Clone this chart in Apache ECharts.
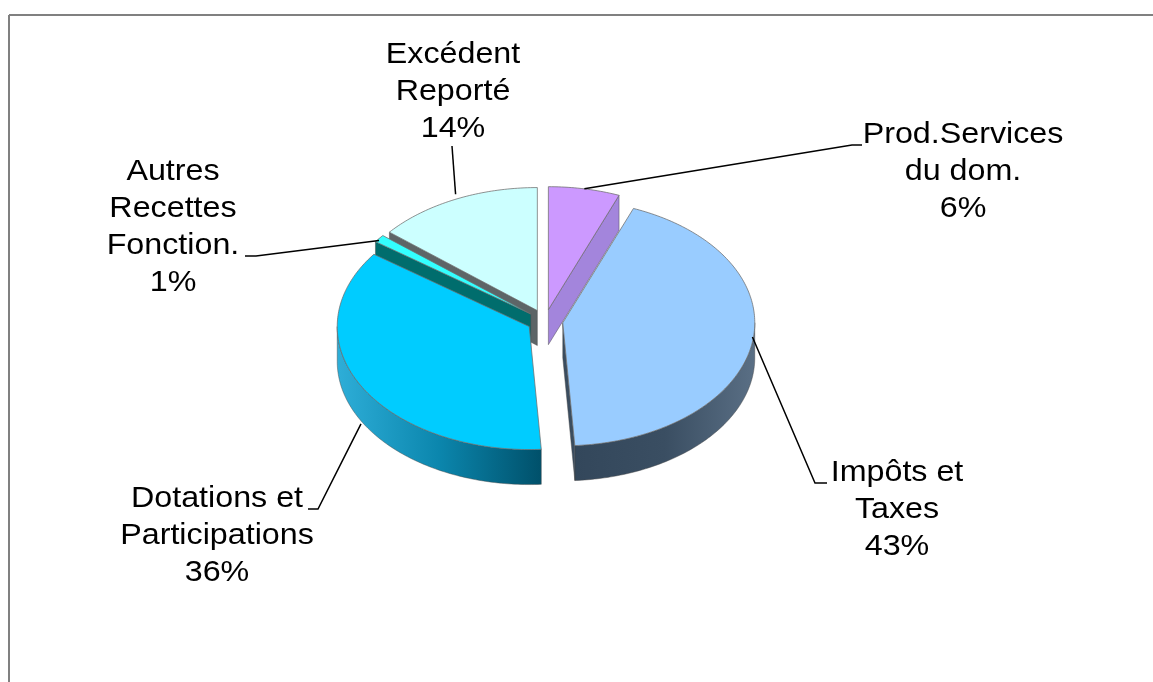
<!DOCTYPE html>
<html>
<head>
<meta charset="utf-8">
<script src="https://cdn.jsdelivr.net/npm/echarts@6/dist/echarts.min.js"></script>
<style>
  html, body { margin: 0; padding: 0; background: #ffffff; }
  #chart { width: 1153px; height: 682px; }
</style>
</head>
<body>
<div id="chart"></div>
<script>
// Recettes de fonctionnement : répartition par nature
const categories = ['Prod.Services du dom.', 'Impôts et Taxes', 'Dotations et Participations', 'Autres Recettes Fonction.', 'Excédent Reporté'];
const labelLines = [['Prod.Services', 'du dom.'], ['Impôts et', 'Taxes'], ['Dotations et', 'Participations'], ['Autres', 'Recettes', 'Fonction.'], ['Excédent', 'Reporté']];
const shares = [6, 43, 36, 1, 14];

// Tilted, exploded pie geometry (screen pixels)
const PIE = { cx: 545, cy: 321, rx: 192, ry: 123, depth: 35, explode: 18 };

// Face colours
const topColors = ['#CC99FF', '#99CCFF', '#00CCFF', '#33FFFF', '#CCFFFF'];
const wallColors = ['#a385dc', '#3a4d60', '#0a7fa6', '#006d6d', '#5d6567'];
const sideStops = [
  ['#8a6cc0', '#9d7fd6'],
  ['#33475b', '#3a4e62', '#5a6f85'],
  ['#2eaed8', '#0b86ad', '#00506a'],
  ['#006666', '#007777'],
  ['#555555', '#666666']
];

// Data-label placement: text centre / first baseline, leader elbow and end
const labelLayout = [
  { x: 963, y: 145, elbow: [852, 145], end: [862, 145], drop: 0 },
  { x: 897, y: 483, elbow: [815, 483], end: [827, 483], drop: -5 },
  { x: 217, y: 509, elbow: [318, 509], end: [308, 509], drop: 38 },
  { x: 173, y: 182, elbow: [256, 256], end: [245, 256], drop: 2 },
  { x: 453, y: 65, elbow: [452, 146], end: [452, 146], drop: -5 }
];
const FONT_SIZE = 30;
const FONT_STRETCH = 1.075;
const LINE_GAP = 37;

const total = shares.reduce((a, b) => a + b, 0);
const bounds = [];
let acc = 0;
shares.forEach(v => {
  const a = acc / total * 360;
  acc += v;
  bounds.push([a, acc / total * 360]);
});
const rad = d => d * Math.PI / 180;

function sliceCentre(i) {
  const mid = rad((bounds[i][0] + bounds[i][1]) / 2);
  return [PIE.cx + PIE.explode * Math.sin(mid), PIE.cy - PIE.explode * Math.cos(mid) * PIE.ry / PIE.rx];
}
function rim(c, deg, z) {
  const t = rad(deg);
  return [c[0] + PIE.rx * Math.sin(t), c[1] - PIE.ry * Math.cos(t) + (z || 0)];
}
function arc(c, a, b, z) {
  const pts = [];
  const n = Math.max(2, Math.ceil(Math.abs(b - a)));
  for (let k = 0; k <= n; k++) pts.push(rim(c, a + (b - a) * k / n, z));
  return pts;
}

// back slices are painted first
const drawRank = shares.map((_, i) => i)
  .map(i => ({ i, c: Math.cos(rad((bounds[i][0] + bounds[i][1]) / 2)) }))
  .sort((p, q) => q.c - p.c)
  .reduce((m, p, r) => { m[p.i] = r; return m; }, {});

const edge = { stroke: 'rgba(70,70,70,0.55)', lineWidth: 0.8 };

function renderItem(params, api) {
  const i = params.dataIndex;
  const [a, b] = bounds[i];
  const c = sliceCentre(i);
  const base = drawRank[i] * 10;
  const children = [];
  const D = PIE.depth;

  // outer curved side, front half only
  const lo = Math.max(a, 90), hi = Math.min(b, 270);
  if (hi > lo) {
    const pts = arc(c, lo, hi, 0).concat(arc(c, hi, lo, D));
    const stops = sideStops[i].map((col, k, arr) => ({ offset: k / (arr.length - 1), color: col }));
    children.push({
      type: 'polygon', z2: base + 1, shape: { points: pts },
      style: Object.assign({ fill: new echarts.graphic.LinearGradient(0, 0, 1, 0, stops) }, edge)
    });
  }
  // radial cut walls facing the viewer
  const wall = deg => {
    const p = rim(c, deg, 0);
    return [[c[0], c[1]], p, [p[0], p[1] + D], [c[0], c[1] + D]];
  };
  if (Math.sin(rad(a)) < -1e-6) {
    children.push({ type: 'polygon', z2: base + 2, shape: { points: wall(a) }, style: Object.assign({ fill: wallColors[i] }, edge) });
  }
  if (Math.sin(rad(b)) > 1e-6) {
    children.push({ type: 'polygon', z2: base + 2, shape: { points: wall(b) }, style: Object.assign({ fill: wallColors[i] }, edge) });
  }
  // top face
  children.push({
    type: 'polygon', z2: base + 3,
    shape: { points: [[c[0], c[1]]].concat(arc(c, a, b, 0)) },
    style: { fill: topColors[i], stroke: 'rgba(110,110,110,0.75)', lineWidth: 1 }
  });

  // leader line and label
  const L = labelLayout[i];
  const anchor = rim(c, (a + b) / 2, L.drop);
  children.push({
    type: 'polyline', z2: 200,
    shape: { points: [anchor, L.elbow, L.end] },
    style: { stroke: '#000000', lineWidth: 1.5, fill: null }
  });
  const lines = labelLines[i].concat([Math.round(api.value(1) / total * 100) + '%']);
  lines.forEach((t, k) => {
    children.push({
      type: 'text', z2: 201,
      x: L.x, y: L.y + k * LINE_GAP - FONT_SIZE * 0.35,
      scaleX: FONT_STRETCH,
      style: {
        text: t, fill: '#000000',
        font: FONT_SIZE + 'px "Liberation Sans", Arial, sans-serif',
        align: 'center', verticalAlign: 'middle'
      }
    });
  });
  return { type: 'group', children };
}

const chart = echarts.init(document.getElementById('chart'), null, { renderer: 'canvas' });
chart.setOption({
  animation: false,
  backgroundColor: '#ffffff',
  graphic: [
    { type: 'line', shape: { x1: 9, y1: 15, x2: 1153, y2: 15 }, style: { stroke: '#808080', lineWidth: 2 }, silent: true },
    { type: 'line', shape: { x1: 9, y1: 15, x2: 9, y2: 682 }, style: { stroke: '#808080', lineWidth: 2 }, silent: true }
  ],
  series: [{
    type: 'custom',
    name: 'Recettes',
    coordinateSystem: 'none',
    silent: true,
    data: shares.map((v, i) => ({ name: categories[i], value: [i, v] })),
    renderItem
  }]
});
</script>
</body>
</html>
